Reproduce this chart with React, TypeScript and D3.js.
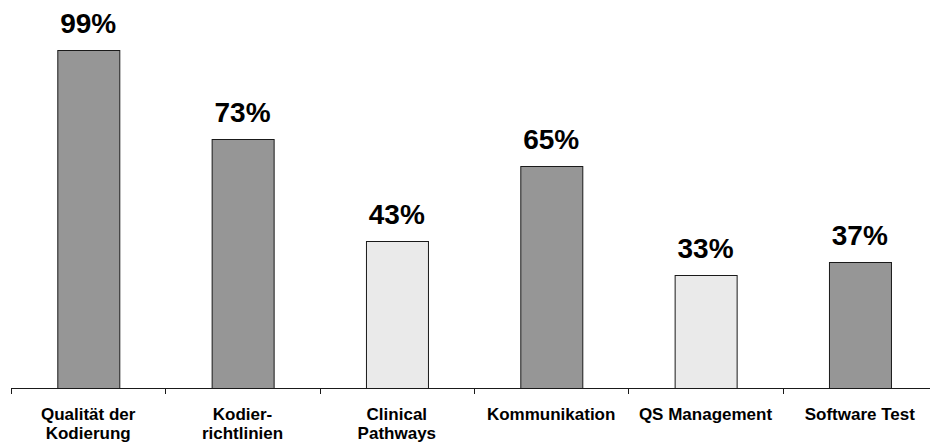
import React from "react";
import * as d3 from "d3";

const categories: string[][] = [
  ["Qualität der", "Kodierung"],
  ["Kodier-", "richtlinien"],
  ["Clinical", "Pathways"],
  ["Kommunikation"],
  ["QS Management"],
  ["Software Test"],
];
const values = [99, 73, 43, 65, 33, 37];
const groups = ["a", "a", "b", "a", "b", "a"];

const W = 930;
const H = 443;
const baseY = 388;
const topY = 47;
const left = 11;
const right = 937;

export default function App() {
  const keys = categories.map((c) => c.join(" "));
  const x = d3.scaleBand<string>().domain(keys).range([left, right]).paddingInner(0.6).paddingOuter(0.3);
  const y = d3.scaleLinear().domain([0, 100]).range([baseY, topY]);
  const color = d3.scaleOrdinal<string, string>().domain(["a", "b"]).range(["#969696", "#eaeaea"]);
  const step = x.step();
  const tickXs = d3.range(keys.length + 1).map((i) => left + i * step);
  const font = "'Liberation Sans', Arial, sans-serif";

  return (
    <svg width={W} height={H} style={{ position: "absolute", left: 0, top: 0 }} fontFamily={font}>
      <rect width={W} height={H} fill="#ffffff" />
      {keys.map((k, i) => (
        <g key={k}>
          <rect
            x={(x(k) as number) + 0.5}
            y={Math.round(y(values[i])) + 0.5}
            width={Math.round(x.bandwidth())}
            height={baseY - Math.round(y(values[i]))}
            fill={color(groups[i])}
            stroke="#1a1a1a"
            strokeWidth={1}
          />
          <text
            x={(x(k) as number) + x.bandwidth() / 2}
            y={y(values[i]) - 17}
            textAnchor="middle"
            fontSize={28}
            fontWeight="bold"
            fill="#000"
          >
            {values[i]}%
          </text>
          {categories[i].map((line, j) => (
            <text
              key={j}
              x={(x(k) as number) + x.bandwidth() / 2}
              y={420 + j * 19}
              textAnchor="middle"
              fontSize={17}
              fontWeight="bold"
              fill="#000"
            >
              {line}
            </text>
          ))}
        </g>
      ))}
      <line x1={left} x2={W} y1={baseY + 0.5} y2={baseY + 0.5} stroke="#1a1a1a" strokeWidth={1} />
      {tickXs.map((tx, i) => (
        <line key={i} x1={Math.round(tx) + 0.5} x2={Math.round(tx) + 0.5} y1={baseY} y2={baseY + 6} stroke="#1a1a1a" strokeWidth={1} />
      ))}
    </svg>
  );
}
